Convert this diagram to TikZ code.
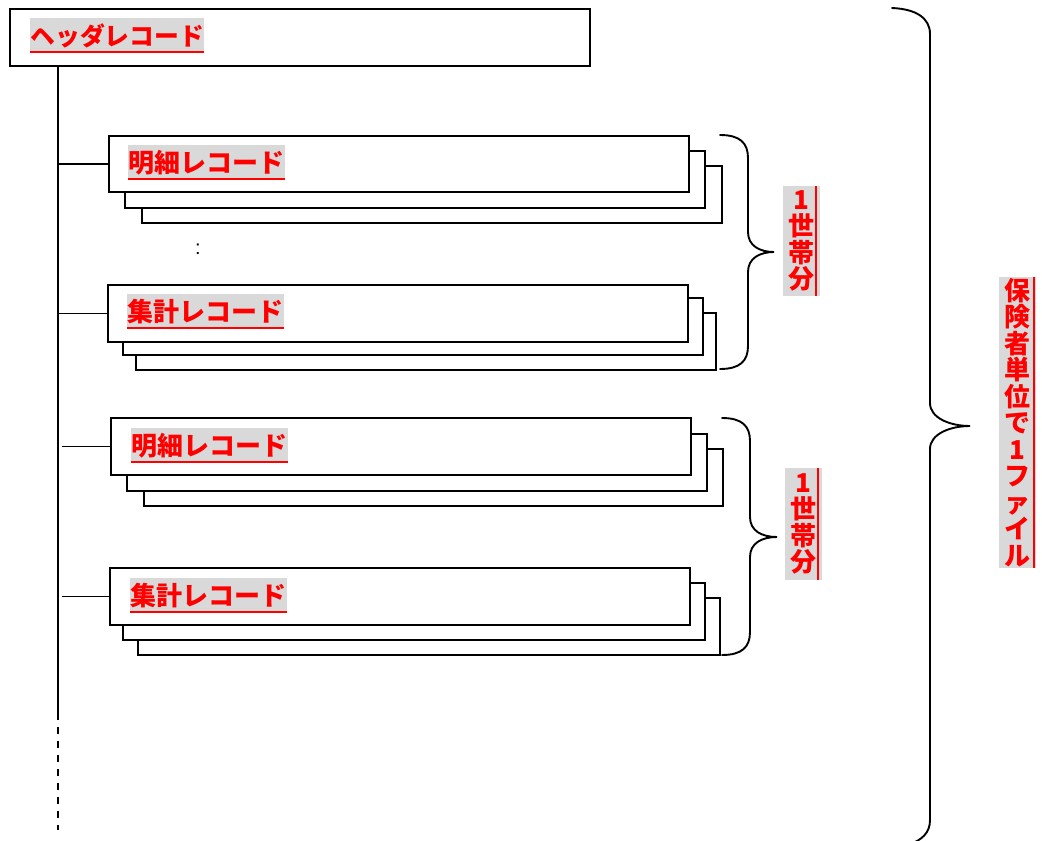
\documentclass[tikz,border=0pt]{standalone}
\usepackage{fontspec}
\newfontfamily\jp{Noto Sans CJK JP}
\newfontfamily\lsans{Liberation Sans}
\definecolor{lbg}{HTML}{D9D9D9}
\tikzset{
  rec/.style={draw, line width=2pt, fill=white, anchor=north west, inner sep=0pt,
              minimum width=580pt, minimum height=57pt},
  lbl/.style={fill=lbg, text=red, font=\jp\bfseries\fontsize{26}{26}\selectfont,
              inner sep=0pt, anchor=north west, minimum height=35pt},
  vlbl/.style={fill=lbg, text=red, font=\jp\bfseries\fontsize{26}{26.5}\selectfont,
              inner sep=0pt, align=center, minimum width=37pt},
  link/.style={line width=1.8pt},
  brc/.style={line width=1.9pt, line cap=round},
  uline/.style={red, line width=2.4pt}
}
\begin{document}
\begin{tikzpicture}[x=1pt,y=-1pt]
\useasboundingbox (0,0) rectangle (1042,841);

% header
\node[rec] (hdr) at (9,8) {};
\node[lbl, minimum width=174pt, font=\jp\bfseries\fontsize{24.8}{24.8}\selectfont] (thdr) at (30,18) {ヘッダレコード};
\draw[uline] ([yshift=1.5pt]thdr.south west) -- ([yshift=1.5pt]thdr.south east);

% trunk
\coordinate (tk) at (58,65);
\coordinate (tk2) at (62,65);
\coordinate (tend) at (58,713);
\coordinate (dend) at (58,830);
\draw[link] (tk) -- (tend);
\draw[link, dash pattern=on 7pt off 7pt] (tend) -- (dend);

% group 1 meisai
\node[rec] (m1c) at (141,165) {};
\node[rec] (m1b) at (124,150) {};
\node[rec, minimum height=56pt] (m1a) at (108,135) {};
\node[lbl, minimum width=157pt] (tm1) at (128,145) {明細レコード};
\draw[uline] ([yshift=1.5pt]tm1.south west) -- ([yshift=1.5pt]tm1.south east);
\draw[link] (tk |- m1a.west) -- (m1a.west);

% colon
\node[font=\lsans\fontsize{20}{20}\selectfont, inner sep=0pt] (colon) at (198,249) {:};

% group 1 shukei
\node[rec] (s1c) at (135,312) {};
\node[rec] (s1b) at (122,297) {};
\node[rec] (s1a) at (107,284) {};
\node[lbl, minimum width=157pt] (ts1) at (127,294) {集計レコード};
\draw[uline] ([yshift=1.5pt]ts1.south west) -- ([yshift=1.5pt]ts1.south east);
\draw[link] (tk |- s1a.west) -- (s1a.west);

% group 2 meisai
\node[rec, minimum width=579pt] (m2c) at (143,448) {};
\node[rec] (m2b) at (126,433) {};
\node[rec] (m2a) at (110,417) {};
\node[lbl, minimum width=157pt] (tm2) at (131,428) {明細レコード};
\draw[uline] ([yshift=1.5pt]tm2.south west) -- ([yshift=1.5pt]tm2.south east);
\draw[link] (tk2 |- m2a.west) -- (m2a.west);

% group 2 shukei
\node[rec, minimum width=582pt] (s2c) at (137,597) {};
\node[rec, minimum width=582pt] (s2b) at (122,582) {};
\node[rec] (s2a) at (109,567) {};
\node[lbl, minimum width=157pt] (ts2) at (130,578) {集計レコード};
\draw[uline] ([yshift=1.5pt]ts2.south west) -- ([yshift=1.5pt]ts2.south east);
\draw[link] (tk2 |- s2a.west) -- (s2a.west);

% braces
\draw[brc] (720,135) .. controls (740,135) and (748,143) .. (748,158) -- (748,232)
  .. controls (748,246) and (760,252) .. (774,252)
  .. controls (760,252) and (748,258) .. (748,272) -- (748,346)
  .. controls (748,361) and (740,369) .. (720,369);
\draw[brc] (722,418) .. controls (742,418) and (750,426) .. (750,441) -- (750,517)
  .. controls (750,531) and (762,537) .. (777,537)
  .. controls (762,537) and (750,543) .. (750,557) -- (750,632)
  .. controls (750,647) and (742,655) .. (722,655);
\draw[brc] (892,8) .. controls (916,9) and (930,18) .. (930,34) -- (930,403)
  .. controls (930,418) and (950,426) .. (970,426)
  .. controls (950,426) and (930,434) .. (930,449) -- (930,820)
  .. controls (930,833) and (922,840) .. (908,845);

% vertical labels
\node[vlbl, minimum height=110pt] (v1) at (801,241) {1\\世\\帯\\分};
\draw[uline] ([xshift=-4pt]v1.north east) -- ([xshift=-4pt]v1.south east);
\node[vlbl, minimum height=112pt] (v2) at (803,524) {1\\世\\帯\\分};
\draw[uline] ([xshift=-4pt]v2.north east) -- ([xshift=-4pt]v2.south east);
\node[vlbl, minimum height=291pt] (v3) at (1017,422.5) {保\\険\\者\\単\\位\\で\\1\\フ\\ァ\\イ\\ル};
\draw[uline] ([xshift=-1.5pt]v3.north east) -- ([xshift=-1.5pt]v3.south east);
\end{tikzpicture}
\end{document}
